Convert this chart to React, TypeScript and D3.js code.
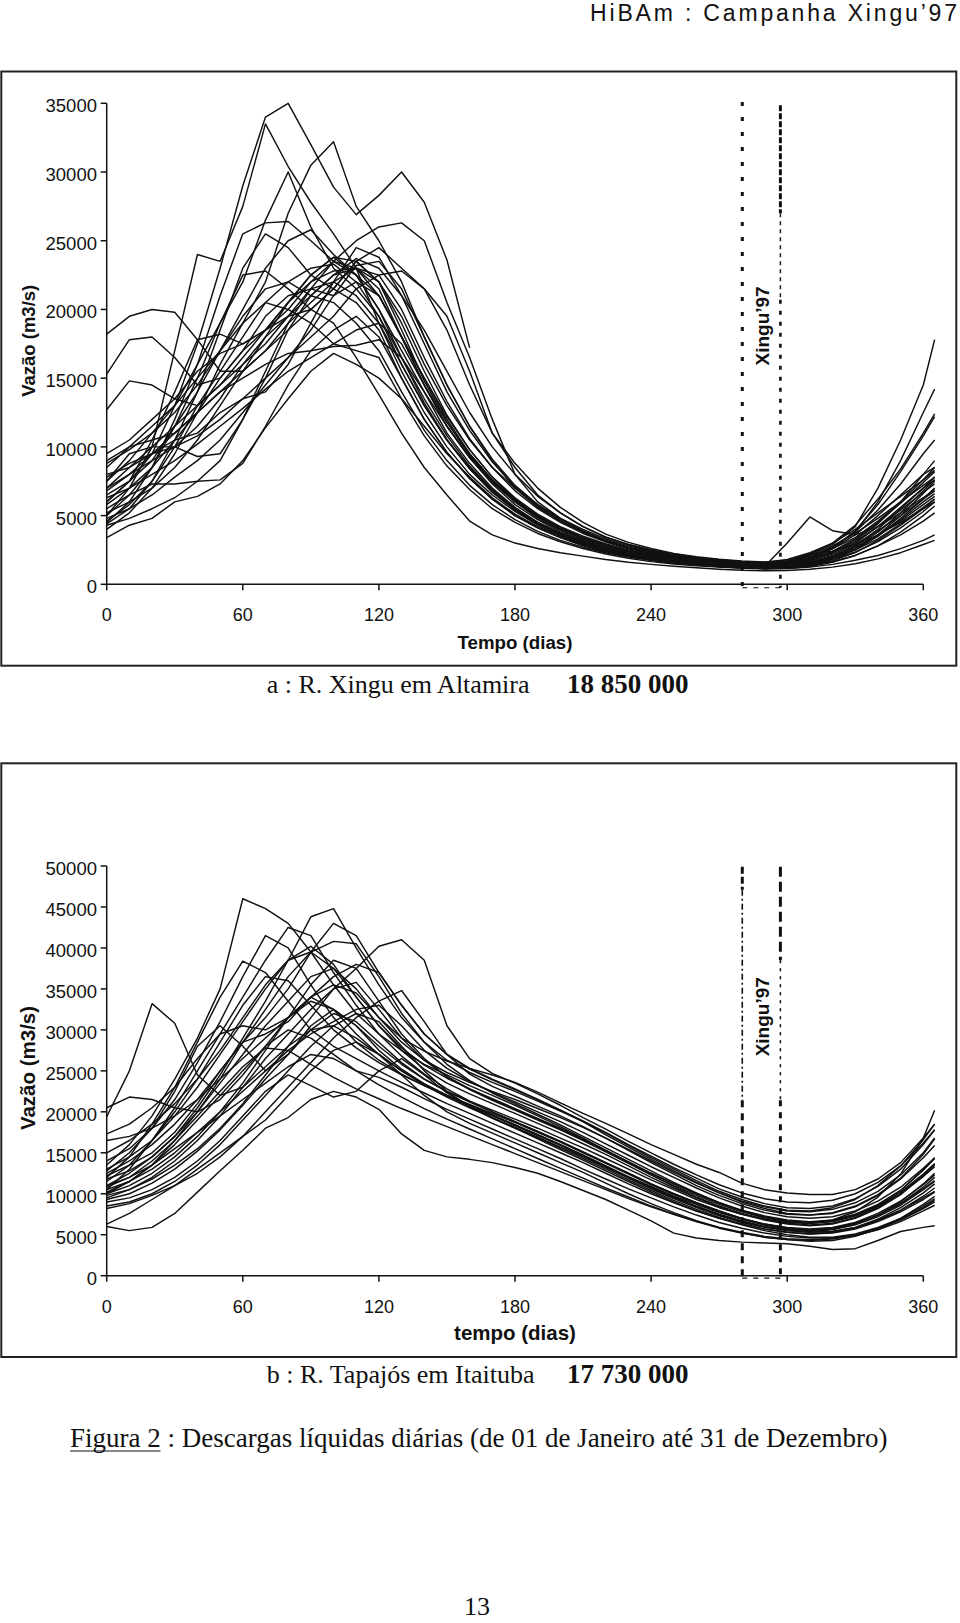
import React from "react";
import * as d3 from "d3";

// ---------- shared axes ----------
const DAYS = [0, 10, 20, 30, 40, 50, 60, 70, 80, 90, 100, 110, 120, 130, 140, 150, 160, 170, 180, 190, 200, 210, 220, 230, 240, 250, 260, 270, 280, 290, 300, 310, 320, 330, 340, 350, 360, 365];
const UNIT = 1000; // series below are in thousands of m3/s
const X_TICKS = [0, 60, 120, 180, 240, 300, 360];
const XINGU_Y_TICKS = [0, 5000, 10000, 15000, 20000, 25000, 30000, 35000];
const TAPAJOS_Y_TICKS = [0, 5000, 10000, 15000, 20000, 25000, 30000, 35000, 40000, 45000, 50000];
const XINGU97_START = 280.2;
const XINGU97_END = 297;

// ---------- R. Xingu em Altamira (thousand m3/s) ----------
const N = null;
const xingu01 = [6.0, 7.5, 9.5, 13, 17.5, 23, 29, 34, 35, 32, 28.9, 26.9, 28.3, 30, 27.8, 23.6, 17.2, N, N, N, N, N, N, N, N, N, N, N, N, N, N, N, N, N, N, N, N, N];
const xingu02 = [5.0, 7, 10, 17, 24, 23.5, 27.5, 33.5, 30.4, 27.8, 25.5, 23, 19, 15.5, 12.5, 10, 8, 6.5, 5.3, 4.3, 3.5, 2.9, 2.5, 2.1, 1.8, 1.6, 1.45, 1.3, 1.2, 1.15, 1.2, 1.4, 1.8, 2.5, 3.5, 4.8, 6.2, 7.0];
const xingu03 = [7.5, 9, 11, 13, 15, 17, 19, 22, 27, 30.5, 32.2, 27.5, 25, 22, 18, 14.5, 11.5, 9, 7, 5.6, 4.6, 3.8, 3.1, 2.6, 2.2, 1.9, 1.7, 1.55, 1.45, 1.4, 1.5, 1.9, 2.6, 3.6, 5.0, 6.5, 8.0, 8.5];
const xingu04 = [8.5, 10, 11.5, 13, 16, 19, 22, 26.5, 30, 26, 23, 21.5, 19.5, 16, 13, 10.5, 8.5, 6.8, 5.5, 4.5, 3.7, 3.1, 2.6, 2.2, 1.9, 1.7, 1.55, 1.4, 1.3, 1.25, 1.3, 1.5, 2.0, 2.8, 4.0, 5.5, 7.0, 7.8];
const xingu05 = [4.5, 6, 8.5, 12, 16, 21, 25.5, 26.3, 26.4, 25, 23.5, 22.5, 20, 17, 14, 11, 8.8, 7, 5.6, 4.5, 3.7, 3.0, 2.5, 2.1, 1.85, 1.65, 1.5, 1.35, 1.25, 1.2, 1.25, 1.4, 1.7, 2.3, 3.2, 4.3, 5.5, 6.2];
const xingu06 = [7.0, 8.5, 10, 11.5, 13, 14.5, 16, 17.5, 19.5, 21.5, 23.5, 25, 26, 26.3, 25, 20.5, 16.5, 12, 8, 6, 4.8, 3.9, 3.2, 2.7, 2.35, 2.05, 1.85, 1.7, 1.6, 1.55, 1.7, 2.2, 2.9, 4.2, 7.0, 10.5, 14.5, 17.8];
const xingu07 = [9.0, 10, 10.5, 11, 12.5, 14, 15.5, 17, 18.5, 20, 21.5, 23.5, 24.5, 23, 21.5, 19.5, 15.5, 11, 8.5, 6.5, 5.2, 4.2, 3.4, 2.9, 2.5, 2.15, 1.9, 1.75, 1.6, 1.55, 1.6, 2.0, 2.7, 3.8, 6.0, 9.0, 12.5, 14.2];
const xingu08 = [18.2, 19.5, 20, 19.8, 17.8, 15.5, 15.5, 17, 19, 20.5, 22, 23, 22, 19.5, 16, 13, 10.5, 8.5, 7, 5.8, 4.8, 4.0, 3.3, 2.8, 2.4, 2.1, 1.9, 1.75, 1.65, 1.6, 1.8, 2.3, 3.0, 4.0, 5.2, 6.4, 7.6, 8.3];
const xingu09 = [15.3, 17.8, 18.0, 16.5, 14.5, 15, 17, 19.5, 21, 21.5, 21, 22, 21, 18, 15, 12, 9.5, 7.6, 6.2, 5.0, 4.1, 3.4, 2.85, 2.45, 2.1, 1.85, 1.7, 1.55, 1.45, 1.4, 1.5, 1.8, 2.3, 3.1, 4.2, 5.6, 7.0, 7.6];
const xingu10 = [12.7, 14.8, 14.5, 13.5, 13, 14.5, 16.5, 18.5, 20.5, 22, 22.8, 23, 22.5, 20, 16.5, 13.3, 10.6, 8.5, 6.8, 5.5, 4.5, 3.7, 3.1, 2.6, 2.25, 1.95, 1.75, 1.6, 1.5, 1.45, 1.55, 2.0, 2.6, 3.4, 4.6, 6.0, 7.6, 8.5];
const xingu11 = [3.4, 4.3, 4.8, 6.0, 6.4, 7.3, 9.0, 11.4, 13.5, 15.5, 16.8, 16.0, 15.0, 13.5, 11.5, 9.5, 7.8, 6.3, 5.1, 4.2, 3.5, 2.9, 2.45, 2.1, 1.8, 1.6, 1.45, 1.3, 1.2, 1.15, 1.15, 1.25, 1.45, 1.75, 2.1, 2.6, 3.2, 3.6];
const xingu12 = [4.3, 4.8, 5.5, 6.3, 7.5, 7.6, 8.8, 11.5, 14.5, 17, 18.5, 19.5, 18, 15, 12, 9.6, 7.7, 6.2, 5.0, 4.1, 3.4, 2.8, 2.35, 2.0, 1.75, 1.55, 1.4, 1.28, 1.2, 1.15, 1.2, 1.35, 1.65, 2.1, 2.8, 3.6, 4.6, 5.2];
const xingu13 = [5.5, 6.5, 7.3, 7.3, 7.5, 9, 12, 15.5, 19, 21.5, 22, 21, 19, 16, 13, 10.5, 8.4, 6.7, 5.4, 4.4, 3.6, 3.0, 2.5, 2.15, 1.85, 1.65, 1.5, 1.38, 1.3, 1.25, 1.3, 1.5, 1.9, 2.6, 3.6, 5.0, 6.6, 7.5];
const xingu14 = [7.5, 9.5, 10, 10, 9.3, 9.5, 12, 15, 18.5, 21, 22.5, 23, 21.5, 18, 14.5, 11.5, 9.2, 7.4, 6.0, 4.9, 4.0, 3.3, 2.75, 2.35, 2.0, 1.78, 1.6, 1.48, 1.4, 1.35, 1.45, 1.8, 2.4, 3.3, 4.5, 5.9, 7.4, 8.2];
const xingu15 = [5.0, 6.5, 8.5, 11.5, 15, 19, 22.5, 22.8, 21.5, 20, 21.5, 23.5, 22, 18.5, 14.8, 11.8, 9.4, 7.5, 6.0, 4.8, 3.9, 3.2, 2.65, 2.25, 1.95, 1.7, 1.55, 1.42, 1.32, 1.27, 1.35, 1.7, 2.3, 3.0, 4.2, 5.4, 6.7, 7.3];
const xingu16 = [6.0, 7.5, 10.5, 14, 17.8, 18.2, 17.5, 18.5, 20.5, 22.5, 23.8, 22.5, 20, 16.5, 13.2, 10.5, 8.4, 6.7, 5.4, 4.4, 3.6, 3.0, 2.5, 2.15, 1.85, 1.63, 1.48, 1.36, 1.27, 1.3, 3.0, 4.9, 3.9, 3.6, 4.2, 5.2, 6.3, 6.9];
const xingu17 = [4.0, 5.2, 7.0, 9.5, 12.5, 16, 19, 20.5, 20, 19, 17.5, 17, 16.5, 13.5, 10.8, 8.6, 6.9, 5.5, 4.5, 3.7, 3.1, 2.6, 2.2, 1.9, 1.65, 1.48, 1.35, 1.25, 1.17, 1.12, 1.15, 1.3, 1.6, 2.1, 2.8, 3.8, 5.0, 5.7];
const xingu18 = [5.2, 6.0, 7.0, 8.5, 10.5, 13, 15.5, 18, 20.5, 22.5, 23.8, 23.5, 22, 19, 15.5, 12.3, 9.8, 7.8, 6.2, 5.0, 4.1, 3.4, 2.85, 2.42, 2.1, 1.85, 1.65, 1.5, 1.4, 1.33, 1.4, 1.65, 2.1, 2.8, 3.8, 5.2, 6.8, 7.6];
const xingu19 = [8.0, 8.5, 9.5, 10.5, 11, 12.5, 13.5, 14, 16, 19, 22, 24.5, 23.8, 21, 17.5, 14, 11.2, 8.9, 7.1, 5.7, 4.6, 3.8, 3.15, 2.65, 2.3, 2.0, 1.8, 1.65, 1.55, 1.5, 1.6, 2.0, 2.7, 3.8, 5.4, 7.3, 9.5, 10.5];
const xingu20 = [7.0, 8, 9.5, 11, 12.5, 14, 15, 16, 16.8, 17, 17.3, 17.4, 17.8, 16.5, 14, 11.5, 9.3, 7.5, 6.1, 5.0, 4.1, 3.4, 2.85, 2.4, 2.05, 1.8, 1.6, 1.46, 1.36, 1.3, 1.35, 1.6, 2.0, 2.7, 3.6, 4.6, 5.8, 6.4];
const xingu21 = [6.5, 7.5, 9, 11.5, 14, 17, 20, 23, 25, 25.8, 24, 22.5, 21, 18, 14.5, 11.5, 9.2, 7.3, 5.8, 4.7, 3.8, 3.15, 2.65, 2.25, 1.95, 1.72, 1.55, 1.42, 1.33, 1.28, 1.35, 1.55, 1.95, 2.6, 3.5, 4.7, 6.0, 6.6];
const xingu22 = [4.8, 5.5, 6.5, 7.8, 9, 10.5, 12.5, 14.5, 16.5, 18.5, 21, 23.2, 23.5, 21.5, 18, 14.5, 11.5, 9.1, 7.2, 5.8, 4.7, 3.85, 3.2, 2.7, 2.3, 2.0, 1.8, 1.63, 1.52, 1.45, 1.55, 1.85, 2.4, 3.2, 4.4, 6.0, 8.0, 9.0];
const xingu23 = [8.8, 9.8, 11, 12.5, 14.5, 17, 19.5, 21.5, 22, 21, 20.5, 19, 17, 14, 11.2, 9.0, 7.2, 5.8, 4.7, 3.85, 3.2, 2.7, 2.3, 2.0, 1.75, 1.57, 1.43, 1.32, 1.24, 1.2, 1.25, 1.45, 1.8, 2.35, 3.1, 4.1, 5.3, 6.0];
const xingu24 = [6.8, 8.0, 9.0, 10, 11.5, 13.5, 16, 18, 19.5, 21, 22.5, 23.7, 23, 21, 18.5, 15.5, 12.5, 10, 8, 6.4, 5.2, 4.2, 3.45, 2.9, 2.5, 2.2, 1.95, 1.78, 1.65, 1.58, 1.7, 2.2, 3.0, 4.3, 6.2, 8.4, 11, 12.4];
const xingu25 = [5.8, 7, 8.5, 10.5, 12.5, 15, 17, 18.5, 19.5, 20, 19, 16.5, 13.8, 11, 8.5, 6.5, 4.6, 3.6, 3.0, 2.6, 2.3, 2.05, 1.8, 1.6, 1.45, 1.32, 1.2, 1.1, 1.02, 0.98, 1.0, 1.1, 1.25, 1.5, 1.85, 2.3, 2.9, 3.2];
const xingu26 = [4.6, 5.8, 7.5, 10, 13, 15.5, 18, 20.5, 22, 23, 23.3, 22, 19.5, 16.5, 13.5, 10.8, 8.6, 6.9, 5.5, 4.5, 3.7, 3.05, 2.55, 2.2, 1.9, 1.68, 1.52, 1.4, 1.3, 1.25, 1.3, 1.5, 1.9, 2.5, 3.3, 4.4, 5.6, 6.2];
const xingu27 = [7.8, 8.8, 9.5, 10, 10.8, 12, 13.5, 15, 16.5, 18, 19.5, 21.5, 22.5, 22.8, 21.5, 18.5, 14.5, 11, 8.8, 7.0, 5.6, 4.5, 3.65, 3.05, 2.6, 2.25, 2.0, 1.82, 1.7, 1.62, 1.7, 2.1, 2.8, 3.7, 4.8, 6.0, 7.2, 7.8];
const xingu28 = [4.4, 5.5, 7.5, 10.5, 14, 18.5, 23, 25.5, 24.5, 22.5, 21.5, 20.5, 18.5, 15, 12, 9.6, 7.7, 6.2, 5.0, 4.1, 3.4, 2.85, 2.4, 2.05, 1.78, 1.58, 1.43, 1.32, 1.24, 1.2, 1.35, 2.2, 2.4, 2.9, 3.6, 4.5, 5.5, 6.0];
const xingu29 = [9.5, 10.5, 12, 13.5, 15.5, 16.8, 17.5, 18.5, 20, 22, 23.5, 23, 21, 18, 15, 12.2, 9.8, 7.8, 6.3, 5.1, 4.2, 3.5, 2.95, 2.5, 2.15, 1.9, 1.7, 1.55, 1.45, 1.4, 1.48, 1.75, 2.2, 2.9, 3.9, 5.0, 6.2, 6.8];
const xingu30 = [6.3, 7, 8, 9, 10.2, 11.5, 12.8, 14.2, 15.5, 16.5, 17.5, 18.5, 19, 17.5, 14.5, 11.8, 9.5, 7.6, 6.1, 4.9, 4.0, 3.3, 2.75, 2.35, 2.0, 1.75, 1.57, 1.43, 1.33, 1.27, 1.35, 1.8, 2.6, 3.9, 5.8, 8.2, 10.8, 12.2];

// ---------- R. Tapajós em Itaituba (thousand m3/s) ----------
const tapajos01 = [13.5, 16, 19.5, 24, 29, 35, 46, 44.8, 43, 39.5, 35.5, 32, 29.5, 27.5, 25.8, 24.5, 23.2, 22, 20.8, 19.5, 18.2, 16.8, 15.3, 13.8, 12.3, 10.9, 9.6, 8.5, 7.6, 6.9, 6.4, 6.2, 6.4, 7.1, 8.3, 10, 12.3, 13.6];
const tapajos02 = [19.4, 25, 33.2, 30.8, 24.5, 22, 23, 25.5, 28, 30, 30.5, 29, 27, 25, 23.3, 21.8, 20.5, 19.3, 18.1, 16.9, 15.7, 14.5, 13.2, 11.9, 10.6, 9.4, 8.3, 7.3, 6.5, 5.9, 5.5, 5.3, 5.4, 5.9, 6.8, 8.0, 9.5, 10.3];
const tapajos03 = [11, 12.5, 14.5, 17, 20.5, 24.5, 29, 33.5, 38.5, 43.8, 44.8, 40, 35.5, 31.5, 28.5, 26.3, 24.8, 23.6, 22.5, 21.3, 20.1, 18.8, 17.4, 15.9, 14.4, 13, 11.6, 10.3, 9.3, 8.5, 8.0, 7.9, 8.3, 9.3, 11, 13.4, 16.6, 18.5];
const tapajos04 = [10.5, 13, 16.5, 20.5, 25, 29.5, 34, 38.5, 42.5, 41.5, 37, 33, 29.5, 26.8, 24.6, 22.8, 21.3, 20, 18.8, 17.6, 16.4, 15.1, 13.8, 12.5, 11.2, 10, 8.9, 7.9, 7.0, 6.3, 5.8, 5.6, 5.8, 6.4, 7.4, 8.8, 10.6, 11.6];
const tapajos05 = [12.2, 13.5, 15, 17.5, 21, 25, 28.5, 31.5, 35, 39.5, 43, 41.5, 37, 33, 29.5, 27, 25.3, 24, 22.8, 21.5, 20.2, 18.8, 17.2, 15.7, 14.2, 12.8, 11.4, 10.1, 9, 8.2, 7.6, 7.4, 7.6, 8.4, 9.8, 11.8, 14.4, 15.9];
const tapajos06 = [9.5, 10.5, 12, 14, 16.5, 19.5, 23, 26.5, 29.5, 32.5, 35, 37.5, 40.2, 41, 38.5, 30.5, 26.5, 24.7, 23.5, 22.2, 20.8, 19.3, 17.9, 16.4, 15, 13.6, 12.3, 11.1, 10.1, 9.4, 9.0, 8.9, 9.2, 10, 11.4, 13.4, 16.2, 17.8];
const tapajos07 = [10, 11.5, 13.5, 16.5, 20, 24, 28.5, 32.5, 36.5, 39.5, 40.8, 40.5, 36.5, 32, 28.5, 25.8, 23.8, 22.3, 21, 19.7, 18.4, 17, 15.6, 14.2, 12.8, 11.4, 10.1, 8.9, 7.9, 7.1, 6.6, 6.4, 6.6, 7.3, 8.4, 10, 12.1, 13.3];
const tapajos08 = [12, 14.5, 18.5, 23, 28.5, 34, 38.4, 37, 33.5, 30, 28, 26.5, 25, 23.6, 22.3, 21, 19.8, 18.6, 17.4, 16.2, 15, 13.8, 12.5, 11.2, 10, 8.9, 7.9, 7, 6.3, 5.7, 5.3, 5.1, 5.3, 5.8, 6.7, 8, 9.7, 10.7];
const tapajos09 = [6.0, 5.5, 5.9, 7.6, 10.2, 12.8, 15.3, 18, 19.3, 21.5, 22.5, 21.8, 20.3, 17.3, 15.3, 14.5, 14.2, 13.8, 13.2, 12.5, 11.5, 10.4, 9.3, 8.0, 6.7, 5.2, 4.6, 4.3, 4.1, 4.0, 3.9, 3.6, 3.2, 3.3, 4.3, 5.4, 5.9, 6.1];
const tapajos10 = [6.3, 7.6, 9.3, 11, 13, 15, 17, 19, 22, 25, 27.5, 28.5, 27, 24.5, 22, 20, 18.6, 17.4, 16.2, 15, 13.8, 12.6, 11.3, 10, 8.8, 7.7, 6.7, 5.9, 5.2, 4.7, 4.4, 4.3, 4.5, 5.0, 5.8, 6.9, 8.3, 9.2];
const tapajos11 = [20.5, 21.8, 21.5, 20.5, 20, 21.5, 24.5, 28, 31.5, 34, 35.5, 34.5, 31.5, 28.5, 26.3, 24.8, 23.6, 22.5, 21.5, 20.4, 19.3, 18.1, 16.8, 15.4, 14, 12.6, 11.3, 10.1, 9.1, 8.4, 7.9, 7.8, 8.1, 8.9, 10.3, 12.3, 15, 16.8];
const tapajos12 = [17.3, 18.5, 20.5, 23, 26.5, 29.5, 30.5, 30, 31.5, 33.5, 32.5, 30.5, 28, 25.8, 24, 22.5, 21.2, 20, 18.8, 17.6, 16.4, 15.1, 13.8, 12.5, 11.2, 10, 8.9, 7.9, 7, 6.3, 5.9, 5.7, 5.9, 6.5, 7.6, 9.1, 11.1, 12.3];
const tapajos13 = [15, 16.5, 18.5, 21, 24, 27.5, 31.5, 35.5, 38.5, 39.5, 37.5, 34, 30.5, 27.5, 25.2, 23.5, 22.2, 21, 19.8, 18.6, 17.4, 16.1, 14.8, 13.4, 12, 10.7, 9.5, 8.4, 7.5, 6.8, 6.3, 6.1, 6.3, 7.0, 8.2, 9.9, 12.2, 13.5];
const tapajos14 = [10, 11, 12.5, 14.5, 17, 20, 23.5, 27.5, 31.5, 35.5, 38.5, 37.5, 33.5, 29.5, 26.5, 24.3, 22.7, 21.4, 20.2, 19, 17.8, 16.5, 15.1, 13.7, 12.3, 11, 9.8, 8.7, 7.8, 7.1, 6.6, 6.4, 6.6, 7.3, 8.5, 10.2, 12.4, 13.7];
const tapajos15 = [8.5, 9, 10, 11.5, 13.5, 16, 19, 22, 25, 28, 30.5, 32, 31, 28, 25, 22.5, 20.6, 19.2, 18, 16.8, 15.6, 14.3, 13, 11.7, 10.4, 9.2, 8.1, 7.1, 6.3, 5.7, 5.3, 5.1, 5.2, 5.7, 6.6, 7.8, 9.3, 10.2];
const tapajos16 = [11.5, 13.5, 16.5, 20, 24, 28.5, 33, 36.5, 36, 33, 30, 27.8, 26, 24.5, 23.2, 22, 20.9, 19.8, 18.7, 17.5, 16.3, 15, 13.7, 12.4, 11.1, 9.9, 8.8, 7.8, 6.9, 6.2, 5.7, 5.5, 5.7, 6.3, 7.4, 9, 11.2, 12.5];
const tapajos17 = [12.5, 14, 16, 18.5, 21.5, 25, 28.5, 29.5, 31, 34, 32.5, 29.5, 27, 25, 23.4, 22, 20.8, 19.6, 18.4, 17.2, 16, 14.7, 13.4, 12, 10.7, 9.5, 8.4, 7.4, 6.6, 6, 5.6, 5.4, 5.6, 6.2, 7.2, 8.6, 10.5, 11.5];
const tapajos18 = [9.0, 9.5, 10.5, 12, 14, 16.5, 19.5, 22.5, 24.5, 23.2, 21.8, 22.5, 25, 26.5, 24.5, 22.3, 20.7, 19.3, 18, 16.7, 15.4, 14.1, 12.8, 11.5, 10.2, 9, 7.9, 7, 6.2, 5.5, 5, 4.7, 4.7, 5.1, 5.9, 7, 8.5, 9.4];
const tapajos19 = [10.5, 11.5, 13, 15, 17.5, 20, 22.5, 25, 27.5, 29.5, 31, 32.5, 33, 30.5, 27.5, 25.3, 23.7, 22.4, 21.2, 20, 18.8, 17.5, 16.1, 14.7, 13.3, 12, 10.7, 9.5, 8.5, 7.7, 7.2, 7, 7.2, 7.9, 9.1, 10.8, 13.1, 14.4];
const tapajos20 = [14, 15.5, 18, 21.5, 26, 31, 36.5, 41.5, 40, 35.5, 31.5, 28.5, 26.3, 24.6, 23.2, 21.9, 20.7, 19.5, 18.3, 17.1, 15.9, 14.6, 13.3, 12, 10.8, 9.6, 8.5, 7.5, 6.7, 6, 5.5, 5.3, 5.4, 5.9, 6.9, 8.3, 10.1, 11.2];
const tapajos21 = [11, 12, 13.5, 15.5, 17.5, 19.5, 21.5, 23.5, 25.5, 27, 26.5, 25, 24.2, 23, 21.6, 20.3, 19.1, 17.9, 16.7, 15.5, 14.3, 13, 11.8, 10.6, 9.5, 8.4, 7.4, 6.5, 5.8, 5.2, 4.8, 4.6, 4.6, 4.9, 5.6, 6.6, 7.9, 8.6];
const tapajos22 = [9.8, 10.5, 11.8, 13.5, 15.5, 18, 21, 24.5, 28, 31.5, 35, 35.8, 32.5, 29, 26.3, 24.3, 22.8, 21.5, 20.3, 19.1, 17.9, 16.6, 15.3, 13.9, 12.5, 11.2, 10, 8.9, 8, 7.3, 6.8, 6.6, 6.8, 7.5, 8.7, 10.4, 12.9, 14.4];
const tapajos23 = [16.5, 17, 18, 19.5, 21.5, 24, 26.5, 29, 31.5, 34, 36.5, 38, 37, 33, 29.5, 27, 25.2, 23.9, 22.7, 21.5, 20.2, 18.9, 17.5, 16, 14.6, 13.2, 11.9, 10.6, 9.6, 8.8, 8.3, 8.2, 8.5, 9.4, 10.9, 13, 16, 17.8];
const tapajos24 = [10.2, 11.5, 13.5, 16, 19, 22, 25, 28, 30, 29, 27, 25, 23.3, 21.8, 20.4, 19.1, 17.9, 16.7, 15.5, 14.3, 13.1, 11.9, 10.7, 9.6, 8.5, 7.5, 6.6, 5.8, 5.2, 4.7, 4.4, 4.2, 4.3, 4.8, 5.7, 7, 8.7, 9.7];
const tapajos25 = [13, 14.5, 16.5, 19.5, 23, 27, 31, 35, 38.5, 40.2, 38, 34, 30.5, 27.8, 25.7, 24.1, 22.8, 21.6, 20.4, 19.2, 18, 16.7, 15.3, 13.9, 12.5, 11.2, 10, 8.9, 7.9, 7.2, 6.7, 6.5, 6.7, 7.4, 8.6, 10.4, 12.9, 14.3];
const tapajos26 = [8.2, 8.8, 9.8, 11, 12.5, 14.5, 17, 20, 23, 26, 29, 31.5, 33.5, 34.8, 31, 27, 24.6, 23.1, 21.9, 20.7, 19.5, 18.2, 16.8, 15.3, 13.8, 12.4, 11, 9.8, 8.8, 8, 7.5, 7.4, 7.7, 8.5, 9.9, 11.9, 14.8, 16.7];
const tapajos27 = [12.8, 15, 18, 22.5, 28, 30.5, 28, 25, 27, 30.5, 32.5, 30.5, 27.5, 25.2, 23.4, 22, 20.8, 19.6, 18.4, 17.2, 16, 14.7, 13.4, 12.1, 10.9, 9.7, 8.7, 7.7, 6.9, 6.2, 5.8, 5.6, 5.8, 6.4, 7.4, 8.8, 10.8, 12];
const tapajos28 = [11.8, 12.8, 14.5, 17, 20, 23.5, 27, 30.5, 33.5, 36.5, 37.5, 35, 31.5, 29, 27.4, 26.2, 25.3, 24.5, 23.6, 22.4, 21.1, 19.8, 18.6, 17.3, 16, 14.8, 13.6, 12.6, 11.3, 10.5, 10.1, 9.9, 9.9, 10.5, 11.8, 13.8, 16.8, 18.5];
const tapajos29 = [9.3, 10, 11.3, 13, 15.2, 17.8, 20.8, 24, 27, 30, 32, 31, 28.5, 26, 24, 22.5, 21.3, 20.2, 19.1, 18, 16.8, 15.6, 14.3, 13, 11.7, 10.5, 9.3, 8.3, 7.5, 6.9, 6.5, 6.4, 6.8, 7.8, 9.6, 12.4, 16.8, 20.2];
const tapajos30 = [10.8, 12, 14, 16.5, 19.5, 22.5, 25.5, 27.8, 27.5, 25.8, 24.2, 22.8, 21.6, 20.4, 19.3, 18.2, 17.1, 16, 14.9, 13.8, 12.7, 11.6, 10.5, 9.4, 8.4, 7.5, 6.6, 5.9, 5.3, 4.8, 4.5, 4.4, 4.5, 4.9, 5.7, 6.8, 8.2, 9];

const XINGU = [xingu01, xingu02, xingu03, xingu04, xingu05, xingu06, xingu07, xingu08, xingu09, xingu10, xingu11, xingu12, xingu13, xingu14, xingu15, xingu16, xingu17, xingu18, xingu19, xingu20, xingu21, xingu22, xingu23, xingu24, xingu25, xingu26, xingu27, xingu28, xingu29, xingu30];
const TAPAJOS = [tapajos01, tapajos02, tapajos03, tapajos04, tapajos05, tapajos06, tapajos07, tapajos08, tapajos09, tapajos10, tapajos11, tapajos12, tapajos13, tapajos14, tapajos15, tapajos16, tapajos17, tapajos18, tapajos19, tapajos20, tapajos21, tapajos22, tapajos23, tapajos24, tapajos25, tapajos26, tapajos27, tapajos28, tapajos29, tapajos30];

// Xingu'97 campaign markers (day, from/to in thousand m3/s)
const XINGU_MARKERS = [
  { day: XINGU97_START, from: 35.1, to: -0.25, dash: "4,11", width: 3 },
  { day: XINGU97_END, from: 34.85, to: 27.0, dash: "6,2", width: 3 },
  { day: XINGU97_END, from: 27.0, to: 20.7, dash: "4,4", width: 1.4 },
  { day: XINGU97_END, from: 20.7, to: -0.25, dash: "4,7", width: 2.6 },
];
const TAPAJOS_MARKERS = [
  { day: XINGU97_START, from: 49.9, to: 47.1, dash: "7,3", width: 3 },
  { day: XINGU97_START, from: 47.1, to: 21.4, dash: "6,3,2,3", width: 1.6 },
  { day: XINGU97_START, from: 21.4, to: -0.3, dash: "7,6", width: 3 },
  { day: XINGU97_END, from: 49.9, to: 38.5, dash: "10,5", width: 3 },
  { day: XINGU97_END, from: 38.5, to: 21.4, dash: "3,5", width: 1.6 },
  { day: XINGU97_END, from: 21.4, to: -0.3, dash: "6,6", width: 3 },
];

const SANS = "'Liberation Sans', Arial, Helvetica, sans-serif";
const SERIF = "'Liberation Serif', 'Times New Roman', Times, serif";

type Marker = { day: number; from: number; to: number; dash: string; width: number };

type PanelProps = {
  series: (number | null)[][];
  yTicks: number[];
  yMax: number;
  frameY: number;
  frameH: number;
  plotTop: number;
  plotBottom: number;
  xTitle: string;
  xTitleSize: number;
  xTitleY: number;
  yTitleSize: number;
  yTitleY: number;
  xLabelDy: number;
  markers: Marker[];
  markerBase: number;
  labelAt: number;
  caption: string;
  captionNum: string;
  captionY: number;
};

function Panel(p: PanelProps) {
  const x = d3.scaleLinear().domain([0, 360]).range([106.7, 923.3]);
  const y = d3.scaleLinear().domain([0, p.yMax]).range([p.plotBottom, p.plotTop]);
  const line = d3
    .line<number | null>()
    .defined((d) => d !== null)
    .x((_, i) => x(DAYS[i]))
    .y((d) => y((d as number) * UNIT));
  const x0 = x(0);
  const y0 = y(0);
  return (
    <g>
      <rect x={1.3} y={p.frameY} width={955} height={p.frameH} fill="none" stroke="#222" strokeWidth={2} />
      {/* curves */}
      <g fill="none" stroke="#111" strokeWidth={1.45} strokeLinejoin="round">
        {p.series.map((s, i) => (
          <path key={i} d={line(s) || ""} />
        ))}
      </g>
      {/* axes */}
      <line x1={x0} x2={x0} y1={y0} y2={y(p.yMax)} stroke="#111" strokeWidth={1.5} />
      <line x1={x0} x2={x(360)} y1={y0} y2={y0} stroke="#111" strokeWidth={1.5} />
      {p.yTicks.map((t) => (
        <g key={"y" + t}>
          <line x1={x0 - 6} x2={x0} y1={y(t)} y2={y(t)} stroke="#111" strokeWidth={1.5} />
          <text x={97} y={y(t) + 2.5} dy="0.35em" textAnchor="end" fontFamily={SANS} fontSize={18.5} fill="#111">
            {t}
          </text>
        </g>
      ))}
      {X_TICKS.map((t) => (
        <g key={"x" + t}>
          <line x1={x(t)} x2={x(t)} y1={y0} y2={y0 + 6} stroke="#111" strokeWidth={1.5} />
          <text x={x(t)} y={y0 + p.xLabelDy} textAnchor="middle" fontFamily={SANS} fontSize={18} fill="#111">
            {t}
          </text>
        </g>
      ))}
      {/* titles */}
      <text x={515} y={p.xTitleY} textAnchor="middle" fontFamily={SANS} fontWeight="bold" fontSize={p.xTitleSize} fill="#111">
        {p.xTitle}
      </text>
      <text
        transform={`translate(34.5,${p.yTitleY}) rotate(-90)`}
        textAnchor="middle"
        fontFamily={SANS}
        fontWeight="bold"
        fontSize={p.yTitleSize}
        fill="#111"
      >
        Vazão (m3/s)
      </text>
      {/* Xingu'97 markers */}
      {p.markers.map((m, i) => (
        <line
          key={"m" + i}
          x1={x(m.day)}
          x2={x(m.day)}
          y1={y(m.from * UNIT)}
          y2={y(m.to * UNIT)}
          stroke="#111"
          strokeWidth={m.width}
          strokeDasharray={m.dash}
        />
      ))}
      <line
        x1={x(XINGU97_START)}
        x2={x(XINGU97_END)}
        y1={y(p.markerBase * UNIT)}
        y2={y(p.markerBase * UNIT)}
        stroke="#111"
        strokeWidth={1.2}
        strokeDasharray="5,6"
      />
      <text
        transform={`translate(${x(XINGU97_END) - 11},${y(p.labelAt * UNIT)}) rotate(-90)`}
        textAnchor="middle"
        fontFamily={SANS}
        fontWeight="bold"
        fontSize={19}
        fill="#111"
      >
        Xingu’97
      </text>
      {/* caption */}
      <text x={266.7} y={p.captionY} fontFamily={SERIF} fontSize={26} fill="#111">
        {p.caption}
      </text>
      <text x={567} y={p.captionY} fontFamily={SERIF} fontWeight="bold" fontSize={27} fill="#111">
        {p.captionNum}
      </text>
    </g>
  );
}

export default function App() {
  return (
    <svg
      width={960}
      height={1623}
      viewBox="0 0 960 1623"
      style={{ position: "absolute", left: 0, top: 0, background: "#fff", display: "block" }}
    >
      <rect x={0} y={0} width={960} height={1623} fill="#fff" />
      <text x={590} y={21} fontFamily={SANS} fontSize={23} fill="#111" textLength={367} lengthAdjust="spacing">
        HiBAm : Campanha Xingu’97
      </text>
      <Panel
        series={XINGU}
        yTicks={XINGU_Y_TICKS}
        yMax={35000}
        frameY={71.5}
        frameH={594.2}
        plotTop={103.3}
        plotBottom={584.3}
        xTitle="Tempo (dias)"
        xTitleSize={18.7}
        xTitleY={649.3}
        yTitleSize={18.5}
        yTitleY={340.8}
        xLabelDy={36.4}
        markers={XINGU_MARKERS}
        markerBase={-0.25}
        labelAt={18.8}
        caption="a : R. Xingu em Altamira"
        captionNum="18 850 000"
        captionY={692.7}
      />
      <Panel
        series={TAPAJOS}
        yTicks={TAPAJOS_Y_TICKS}
        yMax={50000}
        frameY={763.3}
        frameH={593.7}
        plotTop={866}
        plotBottom={1275.7}
        xTitle="tempo (dias)"
        xTitleSize={20.5}
        xTitleY={1340}
        yTitleSize={20.5}
        yTitleY={1068}
        xLabelDy={37.5}
        markers={TAPAJOS_MARKERS}
        markerBase={-0.3}
        labelAt={31.6}
        caption="b : R. Tapajós em Itaituba"
        captionNum="17 730 000"
        captionY={1382.7}
      />
      <text x={70} y={1447} fontFamily={SERIF} fontSize={27} fill="#111">
        Figura 2 : Descargas líquidas diárias (de 01 de Janeiro até 31 de Dezembro)
      </text>
      <line x1={70} x2={160.5} y1={1451} y2={1451} stroke="#111" strokeWidth={1.2} />
      <text x={477} y={1615} textAnchor="middle" fontFamily={SERIF} fontSize={26} fill="#111">
        13
      </text>
    </svg>
  );
}
